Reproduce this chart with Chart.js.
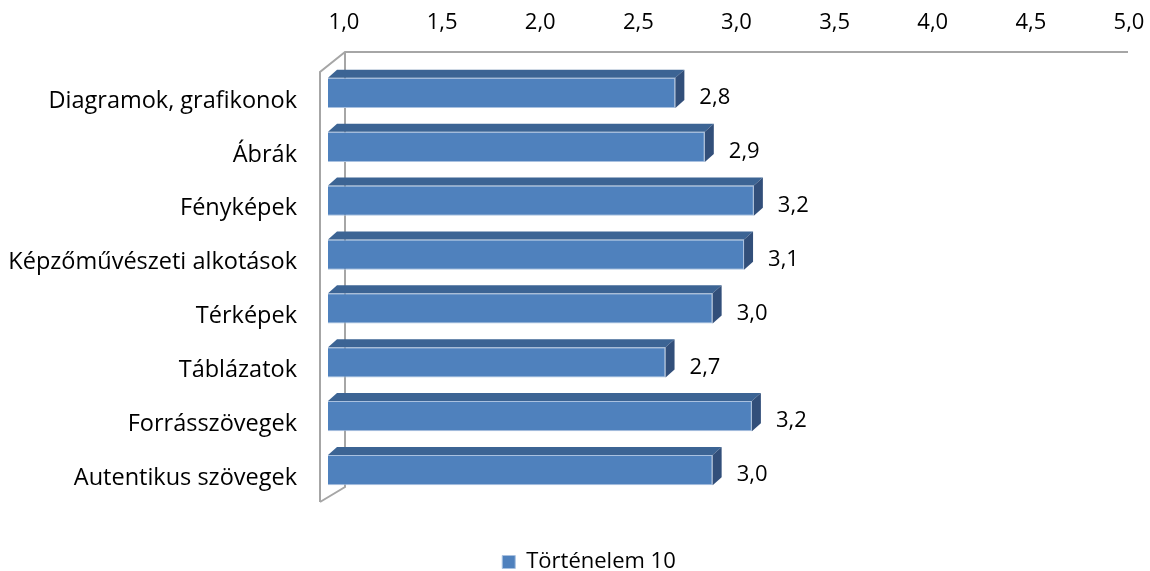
<!DOCTYPE html>
<html>
<head>
<meta charset="utf-8">
<script src="https://cdn.jsdelivr.net/npm/chart.js@4"></script>
<style>
  body { margin: 0; background: #fff; }
  #wrap { width: 1150px; height: 571px; }
</style>
</head>
<body>
<div id="wrap"><canvas id="myChart" width="1150" height="571"></canvas></div>
<script>
// Adatok
const categories = [
    'Diagramok, grafikonok',
    'Ábrák',
    'Fényképek',
    'Képzőművészeti alkotások',
    'Térképek',
    'Táblázatok',
    'Forrásszövegek',
    'Autentikus szövegek'
];
const values = [2.77, 2.92, 3.17, 3.12, 2.96, 2.72, 3.16, 2.96];
const xTickLabels = ['1,0', '1,5', '2,0', '2,5', '3,0', '3,5', '4,0', '4,5', '5,0'];
const seriesName = 'Történelem 10';

const FONT = "'Open Sans', sans-serif";
const DX = 9, DY = 8;   // a 3D mélység

// 3D hatás: hátfal vonalai, oszlopok teteje és oldala, értékcímkék
const bar3d = {
    id: 'bar3d',
    afterLayout(chart) {
        // a hosszú kategórianevek ne legyenek levágva
        chart.scales.y.left = 0;
    },
    beforeDatasetsDraw(chart) {
        const { ctx, chartArea: a, scales: { x } } = chart;
        const fx = a.left - 8, bx = a.left + 17;
        const ft = a.top + 6, bt = a.top - 14;
        const fb = a.bottom + 5, bb = a.bottom - 10;
        const xr = x.getPixelForValue(5) + 15;
        ctx.save();
        ctx.strokeStyle = '#a6a6a6';
        ctx.lineWidth = 2;
        ctx.beginPath();
        ctx.moveTo(fx, fb); ctx.lineTo(fx, ft); ctx.lineTo(bx, bt); ctx.lineTo(xr, bt);
        ctx.moveTo(bx, bt); ctx.lineTo(bx, bb); ctx.lineTo(fx, fb);
        ctx.stroke();
        ctx.restore();
    },
    afterDatasetsDraw(chart) {
        const { ctx } = chart;
        const meta = chart.getDatasetMeta(0);
        ctx.save();
        meta.data.forEach((bar, i) => {
            const { x, y, base, height } = bar.getProps(['x', 'y', 'base', 'height'], true);
            const t = y - height / 2, b = y + height / 2;
            // teteje
            ctx.fillStyle = '#3c6494';
            ctx.beginPath();
            ctx.moveTo(base, t); ctx.lineTo(base + DX, t - DY);
            ctx.lineTo(x + DX, t - DY); ctx.lineTo(x, t);
            ctx.closePath(); ctx.fill();
            // oldala
            ctx.fillStyle = '#324f7a';
            ctx.beginPath();
            ctx.moveTo(x, t); ctx.lineTo(x + DX, t - DY);
            ctx.lineTo(x + DX, b - DY); ctx.lineTo(x, b);
            ctx.closePath(); ctx.fill();
            // érték
            ctx.fillStyle = '#000';
            ctx.font = '22px ' + FONT;
            ctx.textBaseline = 'middle';
            ctx.textAlign = 'left';
            ctx.fillText(values[i].toFixed(1).replace('.', ','), x + 24, y + 5);
        });
        ctx.restore();
    }
};

const ctx = document.getElementById('myChart').getContext('2d');
new Chart(ctx, {
    type: 'bar',
    data: {
        labels: categories,
        datasets: [{
            label: seriesName,
            data: values,
            base: 1,
            backgroundColor: '#4f81bd',
            borderColor: '#a9c1e0',
            borderWidth: 1,
            barPercentage: 0.56,
            categoryPercentage: 1
        }]
    },
    options: {
        indexAxis: 'y',
        responsive: false,
        animation: false,
        layout: { padding: { left: 65, right: 37, top: 0, bottom: 0 } },
        scales: {
            x: {
                position: 'top',
                min: 1,
                max: 5,
                ticks: {
                    stepSize: 0.5,
                    callback: (v, i) => xTickLabels[i],
                    font: { family: FONT, size: 22 },
                    color: '#000',
                    padding: 30,
                    labelOffset: 16
                },
                grid: { display: false, drawTicks: false },
                border: { display: false },
                afterFit(axis) {
                    axis.height = 66;
                    axis.paddingLeft = 0;
                    axis.paddingRight = 0;
                }
            },
            y: {
                ticks: {
                    font: { family: FONT, size: 23.5 },
                    color: '#000',
                    padding: 31,
                    labelOffset: 8
                },
                grid: { display: false, drawTicks: false },
                border: { display: false },
                afterFit(axis) { axis.width = 263; }
            }
        },
        plugins: {
            legend: {
                position: 'bottom',
                maxHeight: 74,
                labels: {
                    boxWidth: 13,
                    boxHeight: 13,
                    padding: 54,
                    font: { family: FONT, size: 22 },
                    color: '#000'
                }
            },
            tooltip: { enabled: false }
        }
    },
    plugins: [bar3d]
});
</script>
</body>
</html>
